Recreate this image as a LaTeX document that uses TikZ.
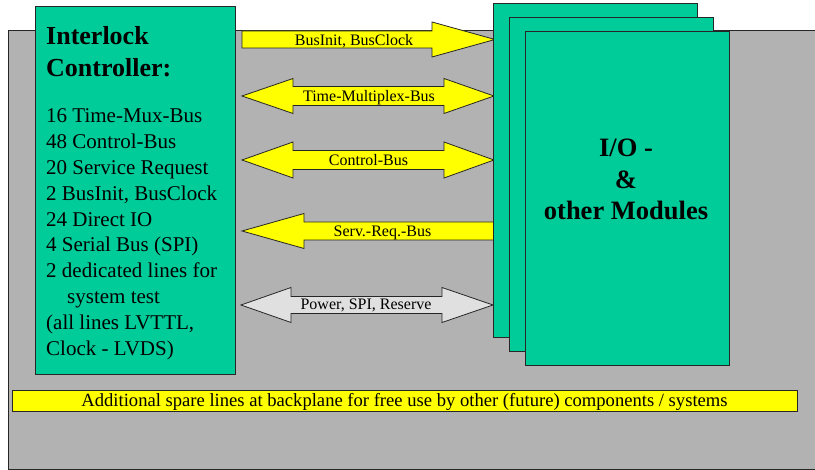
\documentclass[tikz,border=0pt]{standalone}
\usepackage{fontspec}
\setmainfont{Liberation Serif}
\definecolor{panelgray}{HTML}{B2B2B2}
\definecolor{modteal}{HTML}{00CC99}
\definecolor{busyellow}{HTML}{FFFF00}
\definecolor{lightbus}{HTML}{E0E0E0}
\begin{document}
\begin{tikzpicture}[x=1pt,y=-1pt,
  outline/.style={draw=black!85,line width=0.8pt},
  backplane/.style={outline,fill=panelgray},
  modbox/.style={outline,fill=modteal},
  busarrow/.style={outline,fill=busyellow,line join=miter},
  pwrarrow/.style={outline,fill=lightbus,line join=miter},
  buslabel/.style={anchor=base,inner sep=0pt,font=\fontsize{16}{19}\selectfont},
  sparelabel/.style={anchor=base,inner sep=0pt,font=\fontsize{18.6}{22}\selectfont},
  ctrlline/.style={anchor=base west,inner sep=0pt,font=\fontsize{21}{26}\selectfont},
  ctrltitle/.style={anchor=base west,inner sep=0pt,font=\fontsize{26}{32}\selectfont\bfseries},
  modtitle/.style={anchor=base,inner sep=0pt,font=\fontsize{26.5}{31.5}\selectfont\bfseries}]
\useasboundingbox (0,0) rectangle (815,470);

% backplane area
\draw[backplane] (8,30) rectangle (818,469);

% interlock controller board
\draw[modbox] (35,6) rectangle (235,374);
\node[ctrltitle] (t1) at (46,45) {Interlock};
\node[ctrltitle] (t2) at (46,77) {Controller:};
\foreach \txt [count=\i] in {16 Time-Mux-Bus, 48 Control-Bus, 20 Service Request,
  {2 BusInit, BusClock}, 24 Direct IO, 4 Serial Bus (SPI), 2 dedicated lines for,
  \hspace*{21pt}system test, {(all lines LVTTL,}, Clock - LVDS)}
  \node[ctrlline] (ln\i) at (46,{123+25.8*(\i-1)}) {\txt};

% bus arrows between controller and modules
\draw[busarrow] (242,31) -- (432,31) -- (432,22) -- (495,39.5) -- (432,57) -- (432,48) -- (242,48) -- cycle;
\node[buslabel] (lbl1) at (354,46) {BusInit, BusClock};

\draw[busarrow] (242,96) -- (293,78.5) -- (293,86.5) -- (444,86.5) -- (444,78.5) -- (494,96)
  -- (444,113.5) -- (444,105.5) -- (293,105.5) -- (293,113.5) -- cycle;
\node[buslabel] (lbl2) at (369,101.5) {Time-Multiplex-Bus};

\draw[busarrow] (242,160) -- (293,142) -- (293,150.5) -- (444,150.5) -- (444,142) -- (494,160)
  -- (444,178) -- (444,169.5) -- (293,169.5) -- (293,178) -- cycle;
\node[buslabel] (lbl3) at (368.5,165.5) {Control-Bus};

\draw[busarrow] (242,231) -- (304,213.5) -- (304,222) -- (494,222) -- (494,240) -- (304,240)
  -- (304,248.5) -- cycle;
\node[buslabel] (lbl4) at (382.5,236.5) {Serv.-Req.-Bus};

\draw[pwrarrow] (241,305) -- (291,287.5) -- (291,296.5) -- (442,296.5) -- (442,287.5) -- (493,305)
  -- (442,322.5) -- (442,313.5) -- (291,313.5) -- (291,322.5) -- cycle;
\node[buslabel] (lbl5) at (366,310) {Power, SPI, Reserve};

% stacked I/O module boards
\draw[modbox] (493,3) rectangle (697,337);
\draw[modbox] (509,17) rectangle (713,351);
\draw[modbox] (525,31) rectangle (729,365);
\node[modtitle] (m1) at (626,157) {I/O -};
\node[modtitle] (m2) at (626,188.5) {\&};
\node[modtitle] (m3) at (626,220) {other Modules};

% spare lines bar
\draw[busarrow] (12,390) rectangle (797,411);
\node[sparelabel] (spare) at (404.5,406.5) {Additional spare lines at backplane for free use by other (future) components / systems};
\end{tikzpicture}
\end{document}
